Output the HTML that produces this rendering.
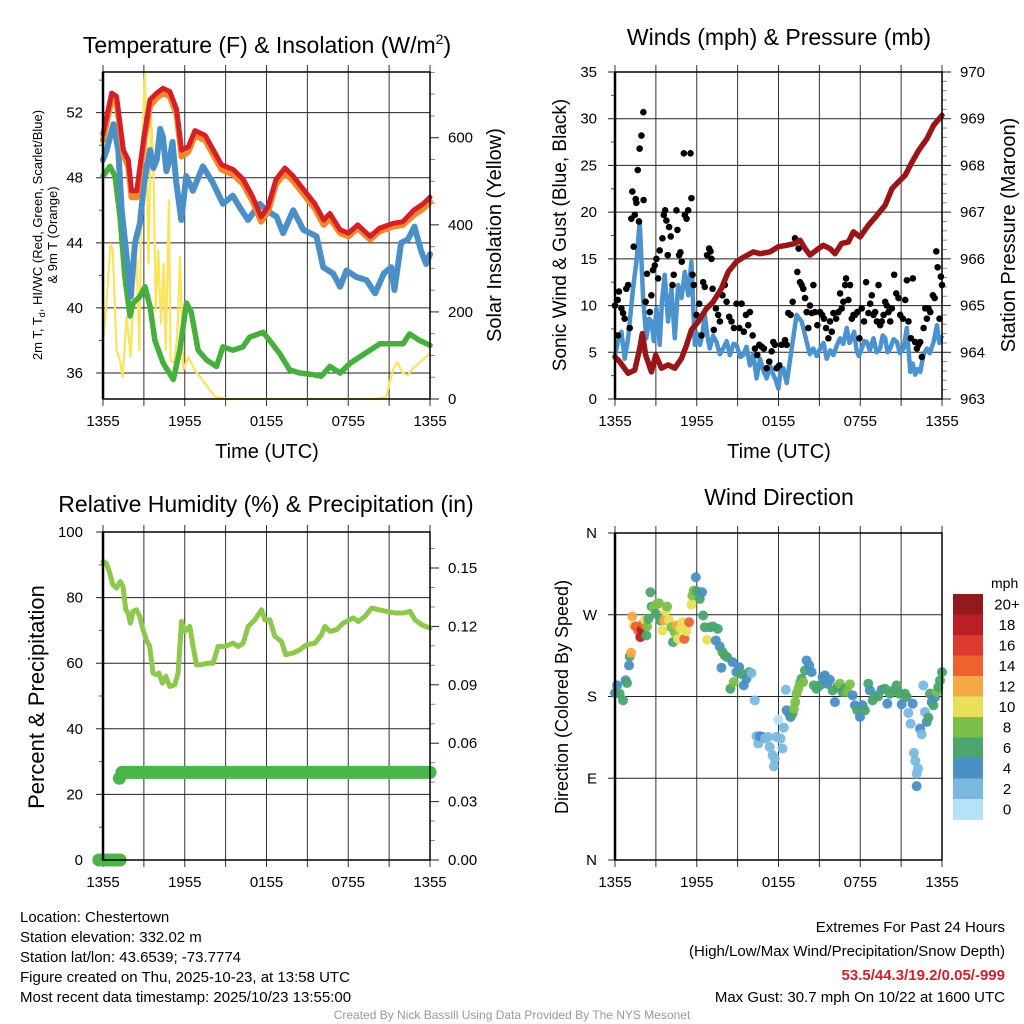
<!DOCTYPE html>
<html><head><meta charset="utf-8"><style>
html,body{margin:0;padding:0;background:#fff;}
svg{display:block;font-family:"Liberation Sans",sans-serif;}
</style></head><body>
<svg id="chart" width="1024" height="1024" viewBox="0 0 1024 1024" xmlns="http://www.w3.org/2000/svg">
<rect x="0" y="0" width="1024" height="1024" fill="#fff"/>
<g id="titles" font-size="23" fill="#000" text-anchor="middle">
<text x="267" y="53">Temperature (F) &amp; Insolation (W/m<tspan font-size="14" dy="-9">2</tspan><tspan dy="9">)</tspan></text>
<text x="779" y="45">Winds (mph) &amp; Pressure (mb)</text>
<text x="266" y="512">Relative Humidity (%) &amp; Precipitation (in)</text>
<text x="779" y="505">Wind Direction</text>
</g>
<g id="axislabels" fill="#000">
<text transform="translate(42,235) rotate(-90)" text-anchor="middle" font-size="13">2m T, T<tspan font-size="9" dy="3">d</tspan><tspan dy="-3">, HI/WC (Red, Green, Scarlet/Blue)</tspan></text>
<text transform="translate(57,235) rotate(-90)" text-anchor="middle" font-size="13">&amp; 9m T (Orange)</text>
<text transform="translate(501,235) rotate(-90)" text-anchor="middle" font-size="20">Solar Insolation (Yellow)</text>
<text x="267" y="458" text-anchor="middle" font-size="20">Time (UTC)</text>
<text transform="translate(566,235) rotate(-90)" text-anchor="middle" font-size="19">Sonic Wind &amp; Gust (Blue, Black)</text>
<text transform="translate(1015,235) rotate(-90)" text-anchor="middle" font-size="20">Station Pressure (Maroon)</text>
<text x="779" y="458" text-anchor="middle" font-size="20">Time (UTC)</text>
<text transform="translate(44,697) rotate(-90)" text-anchor="middle" font-size="22">Percent &amp; Precipitation</text>
<text transform="translate(568,697) rotate(-90)" text-anchor="middle" font-size="18">Direction (Colored By Speed)</text>
</g>
<g id="footer" font-size="15" fill="#000">
<text x="20" y="922">Location: Chestertown</text>
<text x="20" y="942">Station elevation: 332.02 m</text>
<text x="20" y="962">Station lat/lon: 43.6539; -73.7774</text>
<text x="20" y="982">Figure created on Thu, 2025-10-23, at 13:58 UTC</text>
<text x="20" y="1002">Most recent data timestamp: 2025/10/23 13:55:00</text>
<text x="1005" y="932" text-anchor="end">Extremes For Past 24 Hours</text>
<text x="1005" y="956" text-anchor="end">(High/Low/Max Wind/Precipitation/Snow Depth)</text>
<text x="1005" y="980" text-anchor="end" fill="#d0202a" font-weight="bold">53.5/44.3/19.2/0.05/-999</text>
<text x="1005" y="1002" text-anchor="end">Max Gust: 30.7 mph On 10/22 at 1600 UTC</text>
<text x="512" y="1019" text-anchor="middle" font-size="12" fill="#999">Created By Nick Bassill Using Data Provided By The NYS Mesonet</text>
</g>
</svg>
<script>
// ---------- data ----------
const xTickLabels = ["1355","1955","0155","0755","1355"];
// Panel 1
const tempHours = [0,0.27,0.64,1.0,1.5,1.86,2.1,2.47,3.0,3.45,3.94,4.4,4.9,5.4,5.77,6.26,6.75,7.5,8.1,8.7,9.56,10.3,11.0,11.6,12.1,12.7,13.35,13.96,14.8,15.55,16.2,16.65,17.4,18.0,18.7,19.6,20.3,21.3,22.0,22.8,23.5,24];
const tempF = [50.7,51.75,53.2,53.0,49.7,49.1,47.2,47.2,50.5,52.8,53.2,53.5,53.3,52.2,49.7,49.9,50.9,50.6,49.7,48.8,48.5,47.9,46.8,45.6,46.2,47.9,48.6,48.1,47.2,46.4,45.4,45.8,44.8,44.6,45.1,44.4,44.9,45.2,45.3,46.0,46.4,46.8];
const temp9mF = [50.3,51.4,52.8,52.6,49.4,48.7,46.8,46.8,50.1,52.4,52.9,53.2,53.0,51.9,49.3,49.6,50.6,50.3,49.4,48.5,48.2,47.6,46.5,45.3,45.9,47.6,48.3,47.8,46.9,46.1,45.1,45.5,44.6,44.4,44.9,44.2,44.7,45.0,45.1,45.7,46.1,46.5];
const hiwcHours = [0,0.27,0.76,1.12,1.37,1.74,2.03,2.35,2.71,3.02,3.45,3.7,3.94,4.2,4.4,4.65,4.89,5.1,5.38,5.75,6.11,6.6,7.33,8.06,8.8,9.53,10.02,10.64,11.5,12.0,12.74,13.22,13.96,14.7,15.67,16.16,16.9,17.4,17.87,18.6,19.34,19.97,20.6,21.15,21.39,21.88,22.37,22.86,23.35,23.72,24];
const hiwcF = [49.1,49.7,51.3,49.7,46.0,43.1,40.7,44.0,45.2,47.7,49.7,48.6,49.1,51.0,50.5,48.4,49.1,50.2,47.7,45.4,48.1,47.2,48.7,47.7,46.4,46.9,46.2,45.4,46.4,46.0,45.6,44.6,46.0,44.8,44.4,42.5,42.1,41.3,42.3,41.9,41.7,40.9,42.1,42.5,41.1,44.0,44.2,45.0,43.5,42.7,43.3];
const dewHours = [0,0.51,0.88,1.25,1.61,1.98,2.22,2.71,3.08,3.45,3.81,4.42,5.16,5.64,6.13,6.49,6.98,7.6,8.33,8.8,9.53,10.27,10.76,11.74,12.23,12.96,13.69,14.43,15.41,16.02,16.65,17.4,18.14,18.87,19.6,20.33,21.3,22.03,22.5,23.23,24];
const dewF = [48.1,48.7,48.1,45.6,41.9,39.5,40.3,40.7,41.3,40.1,38.0,36.6,35.6,37.4,40.3,39.7,37.4,36.8,36.4,37.6,37.4,37.6,38.2,38.5,38.0,37.2,36.2,36.0,35.9,35.8,36.4,36.0,36.6,37.0,37.4,37.8,37.8,37.8,38.4,38.0,37.7];
const solarHours = [0,0.27,0.56,0.71,1.0,1.25,1.44,1.74,2.03,2.27,2.47,2.67,2.84,3.08,3.23,3.35,3.52,3.69,3.87,4.06,4.26,4.45,4.6,4.84,4.96,5.21,5.45,5.65,5.89,6.26,6.75,7.48,8.21,9.19,20.17,20.78,21.27,21.59,22.0,22.37,22.86,23.1,24];
const solarW = [127,227,356,341,112,89,51,189,97,265,318,112,570,750,494,311,647,555,204,341,173,311,112,456,89,82,143,326,66,97,66,36,5,0,0,5,66,85,59,55,74,80,105];
// Panel 2
const windHours = [0,0.22,0.47,0.71,0.96,1.32,1.57,1.81,2.06,2.3,2.5,2.67,2.85,3.04,3.28,3.45,3.65,3.9,4.14,4.39,4.63,4.88,5.12,5.37,5.61,5.86,6.05,6.23,6.4,6.59,6.8,6.96,7.2,7.45,7.7,7.94,8.2,8.43,8.7,8.92,9.2,9.41,9.65,9.9,10.15,10.39,10.64,10.9,11.13,11.4,11.62,11.8,11.99,12.15,12.35,12.6,12.97,13.33,13.7,14.07,14.3,14.56,14.8,15.05,15.3,15.54,15.8,16.03,16.3,16.52,16.75,17.01,17.2,17.38,17.55,17.75,17.9,18.11,18.3,18.48,18.7,18.97,19.2,19.46,19.65,19.83,20.0,20.2,20.45,20.69,20.9,21.18,21.42,21.67,21.85,22.03,22.2,22.4,22.65,22.89,23.1,23.38,23.63,23.8,24];
const windMph = [4.7,6.1,7.2,4.3,6.5,11.8,14.7,19.0,10.8,6.5,8.6,8.3,6.2,9.7,5.8,10.5,13.3,8.3,11.8,6.5,12.2,10.8,13.6,11.1,14.7,5.8,7.0,5.8,6.8,9.0,6.6,5.4,6.8,6.1,4.8,5.4,6.2,4.7,5.9,5.8,4.5,4.7,5.6,3.6,4.8,2.2,4.3,3.0,2.2,3.5,2.6,2.0,1.1,3.0,3.3,1.7,5.4,9.0,8.3,6.1,4.8,5.4,4.6,5.4,6.0,4.3,5.2,4.7,5.8,6.5,5.9,7.6,6.0,6.5,7.2,5.1,4.6,5.4,6.2,6.1,5.2,6.5,5.0,5.4,6.8,6.5,5.0,5.4,6.4,6.1,4.9,5.4,7.6,2.9,3.8,2.6,3.2,2.9,4.8,5.4,4.9,6.1,7.9,6.0,6.8];
const gustHours = [0,0.2,0.22,0.29,0.47,0.59,0.71,0.83,0.96,1.08,1.2,1.27,1.37,1.45,1.52,1.57,1.67,1.76,1.81,1.94,2.08,2.1,2.25,2.35,2.55,2.67,2.79,2.92,3.04,3.16,3.28,3.48,3.58,3.68,3.77,3.87,3.97,4.09,4.22,4.31,4.51,4.58,4.71,4.8,4.9,5.05,5.12,5.25,5.37,5.54,5.61,5.69,5.78,5.98,6.18,6.35,6.47,6.59,6.76,6.91,7.01,7.08,7.16,7.25,7.4,7.57,7.7,7.89,8.06,8.19,8.38,8.55,8.73,8.92,9.12,9.29,9.46,9.61,9.78,9.9,10.1,10.27,10.44,10.59,10.76,10.93,11.13,11.32,11.5,11.62,11.74,11.86,12.06,12.23,12.48,12.6,12.72,12.89,13.04,13.21,13.38,13.48,13.58,13.7,13.82,13.95,14.07,14.19,14.31,14.44,14.56,14.68,14.85,15.05,15.2,15.34,15.49,15.66,15.78,15.91,16.03,16.23,16.4,16.52,16.64,16.76,16.89,16.96,17.13,17.25,17.38,17.5,17.62,17.79,17.94,18.11,18.28,18.43,18.6,18.73,18.85,18.97,19.09,19.22,19.34,19.46,19.58,19.71,19.83,19.95,20.07,20.2,20.32,20.49,20.64,20.81,20.93,21.13,21.3,21.42,21.54,21.72,21.86,22.03,22.16,22.28,22.4,22.52,22.65,22.77,22.89,23.01,23.14,23.33,23.46,23.58,23.68,23.82,23.92,24.0];
const gustMph = [10.0,10.6,6.8,11.5,9.7,9.2,8.6,11.8,12.2,7.6,19.3,22.2,16.3,19.7,21.4,21.0,24.5,19.0,26.8,28.2,30.7,21.3,10.4,13.4,9.3,11.1,13.8,14.3,15.0,12.9,15.9,17.2,19.7,20.2,19.1,15.4,18.4,17.4,12.2,13.3,20.2,18.1,15.4,15.7,14.7,26.3,19.7,19.3,20.2,26.3,21.5,13.3,12.2,9.0,10.2,6.8,12.5,12.0,15.4,16.1,15.8,15.0,11.8,7.4,9.7,9.0,8.3,11.1,12.2,10.4,8.8,8.3,7.6,10.2,7.6,10.2,7.2,9.0,7.9,9.3,6.8,5.4,4.7,5.8,5.6,5.4,3.3,4.0,5.1,6.1,5.8,3.3,3.6,5.8,6.3,5.8,9.2,9.0,10.4,17.2,13.6,16.1,12.5,12.2,11.8,10.8,9.3,7.6,10.0,9.2,12.2,9.3,7.9,9.3,9.0,8.6,7.6,6.5,8.3,7.2,9.2,8.6,9.3,11.3,9.7,10.4,12.2,12.9,10.6,12.2,8.6,9.0,9.0,9.3,6.5,9.7,8.3,12.5,9.2,10.2,11.1,9.0,9.3,8.3,12.2,7.9,8.3,9.0,10.4,10.0,9.3,8.3,9.7,13.3,11.3,10.8,9.0,8.6,10.6,12.7,8.3,6.5,12.9,6.1,5.4,5.8,6.1,4.5,7.6,9.7,8.6,9.7,9.3,11.1,10.8,15.8,14.1,8.6,13.1,12.2];
const presHours = [0,0.34,0.96,1.45,1.81,2.0,2.25,2.67,2.99,3.41,3.9,4.39,4.88,5.25,5.61,6.1,6.72,7.21,7.82,8.31,8.92,9.29,10.15,10.64,11.37,11.99,12.6,13.21,13.58,13.95,14.31,14.8,15.29,15.78,16.15,16.64,17.13,17.5,17.99,18.6,19.22,19.83,20.32,20.81,21.3,21.79,22.28,22.89,23.38,24];
const presMb = [963.9,963.8,963.55,963.62,964.08,964.4,963.94,963.58,963.94,963.66,963.73,963.66,963.87,964.15,964.48,964.65,964.94,965.08,965.37,965.72,965.94,966.01,966.15,966.11,966.15,966.26,966.29,966.33,966.4,966.22,966.08,966.19,966.29,966.22,966.11,966.33,966.36,966.58,966.47,966.72,966.93,967.15,967.5,967.65,967.79,968.07,968.32,968.57,968.86,969.07];
// Panel 3
const rhHours = [0,0.24,0.49,0.73,0.98,1.27,1.47,1.67,1.84,2.01,2.2,2.45,2.69,2.94,3.18,3.43,3.67,3.92,4.11,4.36,4.6,4.9,5.27,5.51,5.76,5.99,6.37,6.61,6.86,7.22,7.59,8.08,8.45,8.94,9.55,9.92,10.29,10.65,11.14,11.63,11.88,12.25,12.61,13.1,13.42,13.96,14.45,14.94,15.55,16.04,16.29,16.65,17.14,17.63,18.37,18.74,19.23,19.72,20.21,20.82,21.43,22.04,22.53,22.9,23.39,24];
const rhPct = [91.0,90.5,87.5,83.9,82.9,84.9,83.4,76.3,75.3,72.2,75.8,76.3,74.3,70.2,67.1,65.1,57.0,56.5,57.0,53.9,56.0,52.9,53.4,57.0,72.7,69.7,71.2,65.1,59.5,59.5,60.0,60.0,65.1,65.1,66.1,65.1,66.1,71.2,73.2,76.3,73.2,73.2,68.2,66.6,62.6,63.1,64.1,65.6,66.1,68.7,71.2,69.7,70.2,72.2,73.8,72.7,74.3,76.8,76.3,75.8,75.3,75.3,75.8,73.2,71.7,70.7];
const precipHours = [-0.3,0,0.25,0.5,0.75,1.0,1.25,1.2,1.4,2,4,6,8,10,12,14,16,18,20,22,24];
const precipIn = [0,0,0,0,0,0,0,0.042,0.045,0.045,0.045,0.045,0.045,0.045,0.045,0.045,0.045,0.045,0.045,0.045,0.045];
// Panel 4
const dirHours = [0,0.15,0.34,0.59,0.78,0.88,1.03,1.08,1.18,1.27,1.37,1.52,1.71,1.86,1.96,2.06,2.2,2.3,2.35,2.45,2.6,2.69,2.84,2.99,3.09,3.23,3.33,3.48,3.62,3.72,3.82,3.97,4.14,4.26,4.38,4.51,4.63,4.8,4.95,5.09,5.24,5.44,5.61,5.68,5.78,5.93,6.02,6.22,6.39,6.47,6.59,6.76,6.96,7.2,7.4,7.54,7.69,7.81,7.89,8.06,8.23,8.47,8.62,8.72,8.91,9.11,9.28,9.45,9.65,9.85,10.02,10.26,10.38,10.51,10.63,10.83,11.0,11.24,11.36,11.56,11.66,11.73,11.85,11.98,12.15,12.29,12.39,12.54,12.59,12.78,12.88,13.03,13.13,13.23,13.32,13.45,13.57,13.69,13.81,13.94,14.06,14.25,14.43,14.6,14.79,15.04,15.23,15.41,15.58,15.77,15.97,16.14,16.31,16.51,16.7,16.87,17.05,17.24,17.44,17.61,17.78,17.98,18.17,18.34,18.59,18.71,18.91,19.08,19.32,19.57,19.81,19.99,20.18,20.43,20.67,20.87,21.04,21.28,21.41,21.53,21.7,21.85,21.94,22.04,22.14,22.24,22.14,22.39,22.51,22.63,22.75,22.88,23.0,23.12,23.24,23.37,23.49,23.61,23.73,23.85,24.0];
const dirDeg = [183.8,192.3,183.1,175.8,197.7,194.8,214.2,224.1,228.1,268.1,258.2,257.1,252.7,245.4,253.4,260.0,264.4,247.2,257.1,265.5,294.8,279.0,277.6,271.0,282.0,282.7,263.7,252.7,263.7,273.9,279.0,264.4,256.3,239.9,250.8,258.2,243.5,254.5,261.8,243.5,251.9,261.8,281.2,291.1,296.6,311.3,295.9,287.5,294.8,269.2,256.3,242.4,256.3,257.1,241.7,254.5,235.1,211.7,228.9,225.2,223.4,188.6,217.9,195.9,206.9,212.4,205.1,192.3,199.6,206.9,205.8,175.8,136.2,128.2,136.2,135.5,133.7,135.5,124.5,115.4,103.3,111.7,135.5,154.5,133.7,122.7,145.7,187.5,164.8,161.1,157.5,161.1,166.6,173.9,183.1,188.6,194.8,199.6,195.9,208.7,219.7,214.2,206.9,192.3,188.6,192.3,201.4,203.2,194.1,198.5,186.8,173.9,190.4,194.1,184.9,188.6,184.9,193.4,181.3,170.3,164.8,157.5,170.3,164.8,194.1,186.8,175.8,181.3,180.2,187.5,188.6,172.1,183.1,186.8,192.3,183.1,171.4,183.1,179.4,161.9,150.1,172.1,117.9,109.1,95.2,100.7,81.3,144.6,138.4,192.3,163.0,152.0,156.7,183.1,173.9,170.3,179.4,184.9,190.4,197.7,206.9];
const dirSpeed = [5,5,7,7,5,7,5,7,13,13,11,15,15,19,19,15,11,7,9,7,7,7,9,7,9,9,7,11,13,11,9,11,9,7,9,13,11,11,11,15,11,15,11,9,9,5,7,7,5,7,7,11,7,7,5,7,5,5,7,7,7,7,5,9,5,5,7,5,5,7,3,3,3,3,5,5,3,3,3,3,3,3,3,1,3,3,3,3,5,5,5,7,9,9,9,9,9,7,9,7,5,5,5,7,7,7,5,5,5,5,7,5,7,9,7,7,9,9,5,5,7,5,5,7,7,5,7,7,7,5,7,5,7,7,7,7,5,7,7,3,3,5,3,3,3,3,5,5,3,3,3,5,7,7,5,7,5,9,7,7,7];
const legendLabels = ["20+","18","16","14","12","10","8","6","4","2","0"];
const legendColors = ["#931a1c","#bb1e24","#dc3a2c","#ee6230","#f5a945","#e8e058","#7cc04a","#4aa56e","#4a8fc6","#7ab8e0","#b5e2f6"];

// ---------- helpers ----------
const NS = "http://www.w3.org/2000/svg";
const svg = document.getElementById("chart");
function mk(tag, attrs, parent) {
  const e = document.createElementNS(NS, tag);
  for (const k in attrs) e.setAttribute(k, attrs[k]);
  (parent || svg).appendChild(e);
  return e;
}
function scale(d0, d1, r0, r1) { return v => r0 + (v - d0) / (d1 - d0) * (r1 - r0); }

function frame(g, L, R, T, B, name) {
  const xs = scale(0, 24, L, R);
  for (let h = 0; h <= 24; h += 3) {
    const ln = mk("line", {x1: xs(h), x2: xs(h), y1: T - 7, y2: B + 7, stroke: "#333", "stroke-width": 1}, g);
    
    
  }
  for (let i = 0; i < xTickLabels.length; i++) {
    const t = mk("text", {x: xs(i * 6), y: B + 27, "text-anchor": "middle", "font-size": 15}, g);
    t.textContent = xTickLabels[i];
    
    
  }
  return xs;
}
function leftAxis(g, L, R, ys, ticks, labels, minor, name, labX) {
  ticks.forEach((v, i) => {
    const ln = mk("line", {x1: L - 7, x2: R, y1: ys(v), y2: ys(v), stroke: "#222", "stroke-width": 1}, g);
    
    
    const t = mk("text", {x: labX, y: ys(v) + 5, "text-anchor": "end", "font-size": 15}, g);
    t.textContent = labels[i];
    
    
  });
  minor.forEach(v => {
    const ln = mk("line", {x1: L - 4, x2: L, y1: ys(v), y2: ys(v), stroke: "#555", "stroke-width": 1}, g);
    
    
  });
}
function rightAxis(g, R, ys, ticks, labels, minor, name, labX) {
  ticks.forEach((v, i) => {
    const ln = mk("line", {x1: R, x2: R + 9, y1: ys(v), y2: ys(v), stroke: "#222", "stroke-width": 1}, g);
    
    
    const t = mk("text", {x: labX, y: ys(v) + 5, "text-anchor": "start", "font-size": 15}, g);
    t.textContent = labels[i];
    
    
  });
  minor.forEach(v => {
    const ln = mk("line", {x1: R, x2: R + 5, y1: ys(v), y2: ys(v), stroke: "#888", "stroke-width": 1}, g);
    
    
  });
}
function border(g, L, R, T, B, name) {
  const r = mk("rect", {x: L, y: T, width: R - L, height: B - T, fill: "none", stroke: "#000", "stroke-width": 1.5}, g);
  
  
  mk("line", {x1: L, x2: L, y1: T, y2: B, stroke: "#000", "stroke-width": 2.5}, g);
}
function pathFrom(hrs, vals, xs, ys) {
  return hrs.map((h, i) => (i ? "L" : "M") + xs(h).toFixed(1) + "," + ys(vals[i]).toFixed(1)).join("");
}
function range(a, b, s) { const r = []; for (let v = a; v <= b + 1e-9; v += s) r.push(+v.toFixed(4)); return r; }

// ---------- Panel 1 ----------
(function () {
  const g = mk("g", {});
  
  
  const L = 103, R = 430, T = 72, B = 399;
  const xs = frame(g, L, R, T, B, "temperature");
  const yT = scale(34.4, 54.5, B, T);
  const yS = scale(0, 751, B, T);
  leftAxis(g, L, R, yT, [36, 40, 44, 48, 52], ["36", "40", "44", "48", "52"], range(34, 54, 2).filter(v => v % 4 !== 0 && v > 34.4), "temperature", 83);
  rightAxis(g, R, yS, [0, 200, 400, 600], ["0", "200", "400", "600"], range(50, 750, 50).filter(v => v % 200 !== 0), "solar", 448);
  const lines = [
    [solarHours, solarW, yS, "#fce35a", 2.2, "solar-insolation-line"],
    [dewHours, dewF, yT, "#46b03c", 5.5, "dewpoint-line"],
    [hiwcHours, hiwcF, yT, "#4b8fc8", 6, "heat-index-wind-chill-line"],
    [tempHours, temp9mF, yT, "#f5862a", 6, "temperature-9m-line"],
    [tempHours, tempF, yT, "#d42026", 5, "temperature-2m-line"]
  ];
  lines.forEach(l => {
    const p = mk("path", {d: pathFrom(l[0], l[1], xs, l[2]), fill: "none", stroke: l[3], "stroke-width": l[4], "stroke-linejoin": "round", "stroke-linecap": "round"}, g);
    
    
  });
  border(g, L, R, T, B, "temperature");
})();

// ---------- Panel 2 ----------
(function () {
  const g = mk("g", {});
  
  
  const L = 615, R = 942, T = 72, B = 399;
  const xs = frame(g, L, R, T, B, "winds");
  const yW = scale(0, 35, B, T);
  const yP = scale(963, 970, B, T);
  leftAxis(g, L, R, yW, [0, 5, 10, 15, 20, 25, 30, 35], ["0", "5", "10", "15", "20", "25", "30", "35"], range(2.5, 32.5, 5), "winds", 597);
  rightAxis(g, R, yP, [963, 964, 965, 966, 967, 968, 969, 970], ["963", "964", "965", "966", "967", "968", "969", "970"], range(963.2, 969.8, 0.2).filter(v => Math.abs(v - Math.round(v)) > 0.05), "pressure", 960);
  const w = mk("path", {d: pathFrom(windHours, windMph, xs, yW), fill: "none", stroke: "#4a93cf", "stroke-width": 4.5, "stroke-linejoin": "round"}, g);
  
  
  gustHours.forEach((h, i) => {
    const c = mk("circle", {cx: xs(h), cy: yW(gustMph[i]), r: 3.3, fill: "#000"}, g);
    
    
  });
  const p = mk("path", {d: pathFrom(presHours, presMb, xs, yP), fill: "none", stroke: "#9a1518", "stroke-width": 5.5, "stroke-linejoin": "round", "stroke-linecap": "round"}, g);
  
  
  border(g, L, R, T, B, "winds");
})();

// ---------- Panel 3 ----------
(function () {
  const g = mk("g", {});
  
  
  const L = 103, R = 430, T = 532, B = 860;
  const xs = frame(g, L, R, T, B, "humidity");
  const yR = scale(0, 100, B, T);
  const yPr = scale(0, 0.1685, B, T);
  leftAxis(g, L, R, yR, [0, 20, 40, 60, 80, 100], ["0", "20", "40", "60", "80", "100"], [10, 30, 50, 70, 90], "humidity", 83);
  rightAxis(g, R, yPr, [0, 0.03, 0.06, 0.09, 0.12, 0.15], ["0.00", "0.03", "0.06", "0.09", "0.12", "0.15"], [0.01, 0.02, 0.04, 0.05, 0.07, 0.08, 0.1, 0.11, 0.13, 0.14, 0.16], "precip", 448);
  const r = mk("path", {d: pathFrom(rhHours, rhPct, xs, yR), fill: "none", stroke: "#8cc84b", "stroke-width": 5, "stroke-linejoin": "round", "stroke-linecap": "round"}, g);
  
  
  const zi = precipIn.findIndex(v => v > 0.044);
  const band = mk("path", {d: pathFrom(precipHours.slice(zi), precipIn.slice(zi), xs, yPr), fill: "none", stroke: "#4ab548", "stroke-width": 13, "stroke-linecap": "round"}, g);
  
  
  precipHours.forEach((h, i) => {
    const c = mk("circle", {cx: xs(h), cy: yPr(precipIn[i]), r: 6.5, fill: "#4ab548"}, g);
    
    
  });
  border(g, L, R, T, B, "humidity");
})();

// ---------- Panel 4 ----------
(function () {
  const g = mk("g", {});
  
  
  const L = 615, R = 942, T = 533, B = 860;
  const xs = frame(g, L, R, T, B, "direction");
  const yD = scale(0, 360, B, T);
  leftAxis(g, L, R, yD, [0, 90, 180, 270, 360], ["N", "E", "S", "W", "N"], [], "direction", 597);
  dirHours.forEach((h, i) => {
    const bin = Math.min(10, Math.floor(dirSpeed[i] / 2));
    const c = mk("circle", {cx: xs(h), cy: yD(dirDeg[i]), r: 5, fill: legendColors[10 - bin], "fill-opacity": 0.95}, g);
    
    
  });
  border(g, L, R, T, B, "direction");
  const lg = mk("g", {}, g);
  
  
  const t0 = mk("text", {x: 991, y: 588, "font-size": 14}, lg);
  t0.textContent = "mph";
  
  
  const top = 594, h = 20.5;
  legendLabels.forEach((lab, i) => {
    const rc = mk("rect", {x: 953, y: top + i * h, width: 30, height: h + 0.5, fill: legendColors[i]}, lg);
    
    
    const t = mk("text", {x: 1007, y: top + i * h + h / 2 + 5, "text-anchor": "middle", "font-size": 15}, lg);
    t.textContent = lab;
    
    
  });
})();
</script>
</body></html>
